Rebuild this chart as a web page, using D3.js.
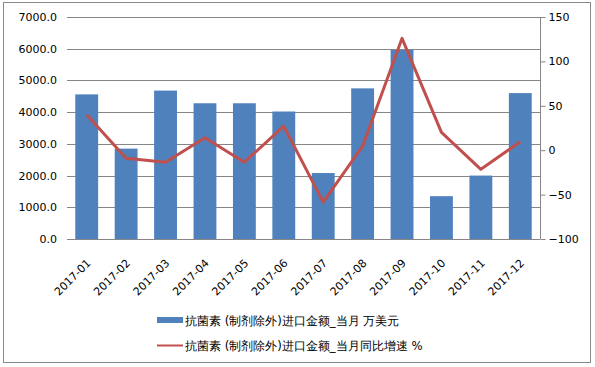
<!DOCTYPE html>
<html>
<head>
<meta charset="UTF-8">
<script src="https://cdn.jsdelivr.net/npm/d3@7"></script>
<style>
  body { margin: 0; background: #fff; }
  text { font-family: Tahoma, "DejaVu Sans", sans-serif; }
</style>
</head>
<body>
<svg id="chart" width="595" height="367"></svg>
<script>
// data
var months = ["2017-01","2017-02","2017-03","2017-04","2017-05","2017-06",
              "2017-07","2017-08","2017-09","2017-10","2017-11","2017-12"];
var amount = [4560, 2850, 4680, 4280, 4280, 4020, 2080, 4750, 5960, 1350, 2000, 4600];
var growth = [40, -9, -13.5, 14, -13.5, 27, -58.5, 4.5, 126, 20, -21.5, 9.5];
var leftTicks = [0, 1000, 2000, 3000, 4000, 5000, 6000, 7000];
var rightTicks = [-100, -50, 0, 50, 100, 150];
var barName = "抗菌素 (制剂除外)进口金额_当月  万美元";
var lineName = "抗菌素 (制剂除外)进口金额_当月同比增速  %";

var svg = d3.select("#chart");
var plotL = 67, plotR = 540, plotT = 17, plotB = 239;

// outer frame
svg.append("rect")
  .attr("x", 3.5).attr("y", 2.5).attr("width", 587).attr("height", 360)
  .attr("fill", "none").attr("stroke", "#898989");

var x = d3.scaleBand().domain(months).range([plotL, plotR]).paddingInner(0.42).paddingOuter(0.21);
var yL = d3.scaleLinear().domain([0, 7000]).range([plotB, plotT]);
var yR = d3.scaleLinear().domain([-100, 150]).range([plotB, plotT]);

// gridlines
svg.append("g").selectAll("line").data(leftTicks).enter().append("line")
  .attr("x1", plotL).attr("x2", plotR)
  .attr("y1", function (d) { return Math.round(yL(d)) + 0.5; })
  .attr("y2", function (d) { return Math.round(yL(d)) + 0.5; })
  .attr("stroke", "#868686").attr("stroke-width", 1);

// bars
svg.append("g").selectAll("rect").data(amount).enter().append("rect")
  .attr("x", function (d, i) { return x(months[i]); })
  .attr("width", x.bandwidth())
  .attr("y", function (d) { return yL(d); })
  .attr("height", function (d) { return plotB - yL(d); })
  .attr("fill", "#4f81bd");

// line
var line = d3.line()
  .x(function (d, i) { return x(months[i]) + x.bandwidth() / 2; })
  .y(function (d) { return yR(d); });
svg.append("path").datum(growth)
  .attr("d", line)
  .attr("fill", "none").attr("stroke", "#c0504d")
  .attr("stroke-width", 3).attr("stroke-linejoin", "round");

// left axis
var ax = svg.append("g").attr("transform", "translate(" + plotL + ",0)")
  .call(d3.axisLeft(yL).tickValues(leftTicks).tickSize(0).tickPadding(10)
    .tickFormat(function (d) { return d.toFixed(1); }));
ax.select(".domain").remove();
ax.selectAll("text").attr("font-size", 11).attr("fill", "#000");

// right axis
var ar = svg.append("g").attr("transform", "translate(" + (plotR + 0.5) + ",0)")
  .call(d3.axisRight(yR).tickValues(rightTicks).tickSize(5).tickPadding(3));
ar.select(".domain").attr("stroke", "#868686").attr("d", "M0," + plotT + "V" + plotB);
ar.selectAll("line").attr("stroke", "#868686");
ar.selectAll("text").attr("font-size", 11).attr("fill", "#000");

// x axis labels
var axb = svg.append("g").attr("transform", "translate(0," + plotB + ")")
  .call(d3.axisBottom(x).tickSize(0).tickPadding(0));
axb.select(".domain").remove();
axb.selectAll("text")
  .attr("font-size", 11).attr("fill", "#000")
  .attr("text-anchor", "end")
  .attr("y", 0).attr("dy", "0.35em")
  .attr("transform", "translate(2,22) rotate(-45)");

// legend
var lg = svg.append("g");
lg.append("rect").attr("x", 157).attr("y", 317).attr("width", 26).attr("height", 6).attr("fill", "#4f81bd");
lg.append("text").attr("x", 185).attr("y", 325).attr("font-size", 11.7).text(barName);
lg.append("line").attr("x1", 157).attr("x2", 183).attr("y1", 345.5).attr("y2", 345.5)
  .attr("stroke", "#c0504d").attr("stroke-width", 2);
lg.append("text").attr("x", 185).attr("y", 350).attr("font-size", 11.7).text(lineName);
</script>
</body>
</html>
